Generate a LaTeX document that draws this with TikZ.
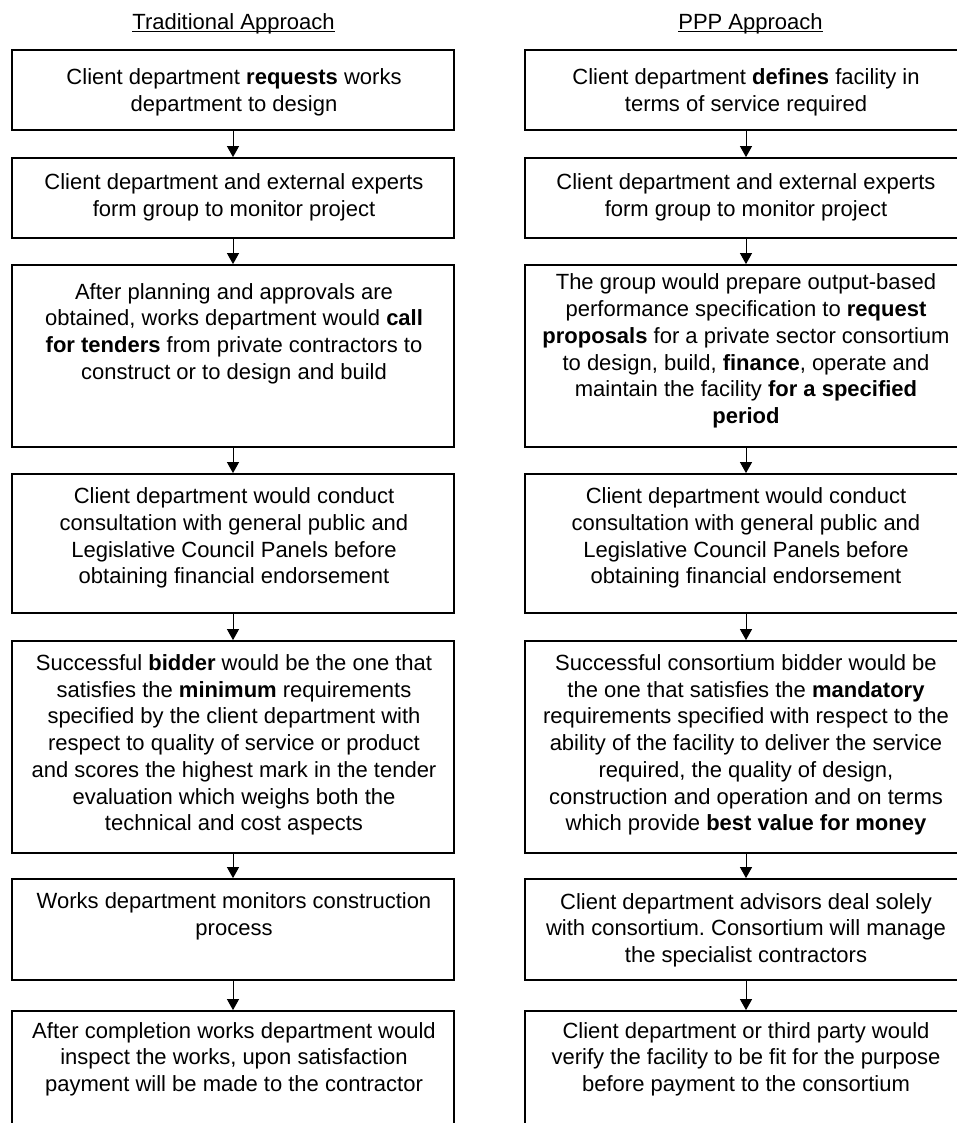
\documentclass[tikz,border=0pt]{standalone}
\usepackage{fontspec}
\setmainfont{Liberation Sans}
\usetikzlibrary{arrows.meta}
\frenchspacing
\begin{document}
\begin{tikzpicture}[x=1pt,y=-1pt,
  frame/.style={draw=black,line width=1.8pt,minimum width=442pt,inner sep=0pt},
  txt/.style={align=center,inner sep=0pt,font=\fontsize{22}{26.7}\selectfont},
  ttl/.style={anchor=base,inner sep=0pt,font=\fontsize{22}{26.7}\selectfont},
  arr/.style={line width=1pt,-{Triangle[length=11pt,width=12pt]}}]
\useasboundingbox (0,0) rectangle (957,1123);
% titles
\node[ttl] (TL) at (233.5,30) {Traditional Approach};
\node[ttl] (TR) at (750.5,30) {PPP Approach};
\draw[line width=1pt] ([yshift=-2pt]TL.base west) -- ([yshift=-2pt]TL.base east);
\draw[line width=1pt] ([yshift=-2pt]TR.base west) -- ([yshift=-2pt]TR.base east);
% left frames
\node[frame,minimum height=80pt]  (L1) at (233,90) {};
\node[frame,minimum height=80pt]  (L2) at (233,198) {};
\node[frame,minimum height=182pt] (L3) at (233,356) {};
\node[frame,minimum height=139pt] (L4) at (233,543.5) {};
\node[frame,minimum height=212pt] (L5) at (233,747) {};
\node[frame,minimum height=101pt] (L6) at (233,929.5) {};
\node[frame,minimum height=130pt] (L7) at (233,1076) {};
% right frames
\node[frame,minimum height=80pt]  (R1) at (746,90) {};
\node[frame,minimum height=80pt]  (R2) at (746,198) {};
\node[frame,minimum height=182pt] (R3) at (746,356) {};
\node[frame,minimum height=139pt] (R4) at (746,543.5) {};
\node[frame,minimum height=212pt] (R5) at (746,747) {};
\node[frame,minimum height=101pt] (R6) at (746,929.5) {};
\node[frame,minimum height=130pt] (R7) at (746,1076) {};
% left texts
\node[txt] (L1t) at (234,92) {Client department \textbf{requests} works\\department to design};
\node[txt] (L2t) at (234,197) {Client department and external experts\\form group to monitor project};
\node[txt] (L3t) at (234,333.5) {After planning and approvals are\\obtained, works department would \textbf{call}\\\textbf{for tenders} from private contractors to\\construct or to design and build};
\node[txt] (L4t) at (234,538) {Client department would conduct\\consultation with general public and\\Legislative Council Panels before\\obtaining financial endorsement};
\node[txt] (L5t) at (234,745) {Successful \textbf{bidder} would be the one that\\satisfies the \textbf{minimum} requirements\\specified by the client department with\\respect to quality of service or product\\and scores the highest mark in the tender\\evaluation which weighs both the\\technical and cost aspects};
\node[txt] (L6t) at (234,916) {Works department monitors construction\\process};
\node[txt] (L7t) at (234,1059) {After completion works department would\\inspect the works, upon satisfaction\\payment will be made to the contractor};
% right texts
\node[txt] (R1t) at (746,92) {Client department \textbf{defines} facility in\\terms of service required};
\node[txt] (R2t) at (746,197) {Client department and external experts\\form group to monitor project};
\node[txt] (R3t) at (746,351) {The group would prepare output-based\\performance specification to \textbf{request}\\\textbf{proposals} for a private sector consortium\\to design, build, \textbf{finance}, operate and\\maintain the facility \textbf{for a specified}\\\textbf{period}};
\node[txt] (R4t) at (746,538) {Client department would conduct\\consultation with general public and\\Legislative Council Panels before\\obtaining financial endorsement};
\node[txt] (R5t) at (746,745) {Successful consortium bidder would be\\the one that satisfies the \textbf{mandatory}\\requirements specified with respect to the\\ability of the facility to deliver the service\\required, the quality of design,\\construction and operation and on terms\\which provide \textbf{best value for money}};
\node[txt] (R6t) at (746,930) {Client department advisors deal solely\\with consortium. Consortium will manage\\the specialist contractors};
\node[txt] (R7t) at (746,1059) {Client department or third party would\\verify the facility to be fit for the purpose\\before payment to the consortium};
% arrows
\foreach \a/\b in {1/2,2/3,3/4,4/5,5/6,6/7}{
  \draw[arr] (L\a.south) -- (L\b.north);
  \draw[arr] (R\a.south) -- (R\b.north);
}
\end{tikzpicture}
\end{document}
